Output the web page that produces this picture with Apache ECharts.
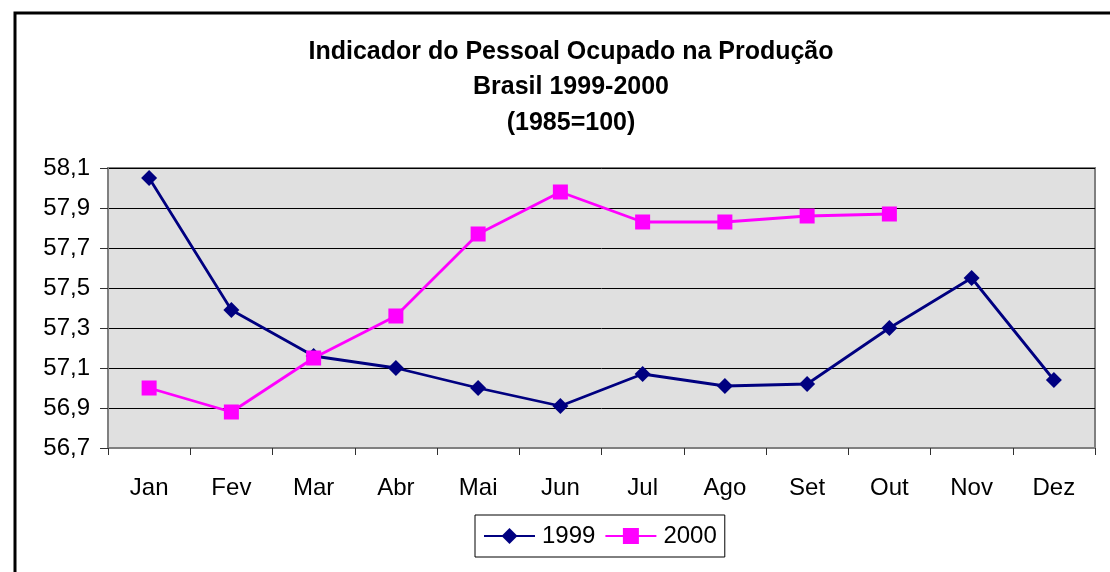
<!DOCTYPE html>
<html>
<head>
<meta charset="utf-8">
<script src="https://cdn.jsdelivr.net/npm/echarts@6/dist/echarts.min.js"></script>
<style>
html,body{margin:0;padding:0;background:#fff;}
#chart{width:1110px;height:572px;}
</style>
</head>
<body>
<div id="chart"></div>
<script>
var categories = ['Jan','Fev','Mar','Abr','Mai','Jun','Jul','Ago','Set','Out','Nov','Dez'];
var series1999 = [58.05, 57.39, 57.16, 57.10, 57.00, 56.91, 57.07, 57.01, 57.02, 57.30, 57.55, 57.04];
var series2000 = [57.00, 56.88, 57.15, 57.36, 57.77, 57.98, 57.83, 57.83, 57.86, 57.87, null, null];
var titleLines = ['Indicador do Pessoal Ocupado na Produção', 'Brasil 1999-2000', '(1985=100)'];

var chart = echarts.init(document.getElementById('chart'), null, {renderer: 'canvas'});
var font = 'Liberation Sans, Arial, sans-serif';
chart.setOption({
  animation: false,
  backgroundColor: '#ffffff',
  title: {
    text: titleLines.join('\n'),
    left: 566,
    top: 29,
    textAlign: 'center',
    textStyle: {fontFamily: font, fontSize: 25, fontWeight: 'bold', color: '#000', lineHeight: 35.5}
  },
  graphic: [{
    type: 'rect',
    shape: {x: 15, y: 13, width: 1200, height: 700},
    style: {fill: 'none', stroke: '#000', lineWidth: 3},
    silent: true
  }],
  legend: {
    data: ['1999', '2000'],
    left: 475,
    top: 515,
    orient: 'horizontal',
    borderColor: '#000',
    borderWidth: 1,
    padding: [9, 8, 9, 8],
    itemGap: 9,
    itemWidth: 51,
    itemHeight: 20,
    textStyle: {fontFamily: font, fontSize: 24, color: '#000', padding: [0, 0, 0, 2]}
  },
  grid: {
    left: 108, right: 15, top: 168, bottom: 124,
    show: true,
    backgroundColor: '#e0e0e0',
    borderColor: '#808080',
    borderWidth: 2
  },
  xAxis: {
    type: 'category',
    data: categories,
    boundaryGap: true,
    axisLine: {show: true, lineStyle: {color: '#808080', width: 2}},
    axisTick: {show: true, alignWithLabel: false, length: 7, lineStyle: {color: '#303030', width: 1}},
    axisLabel: {fontFamily: font, fontSize: 24, color: '#000', margin: 28},
    splitLine: {show: false}
  },
  yAxis: {
    type: 'value',
    min: 56.7,
    max: 58.1,
    interval: 0.2,
    axisLine: {show: true, lineStyle: {color: '#808080', width: 2}},
    axisTick: {show: true, length: 8, lineStyle: {color: '#303030'}},
    axisLabel: {
      fontFamily: font, fontSize: 24, color: '#000', margin: 18,
      formatter: function (v) { return v.toFixed(1).replace('.', ','); }
    },
    splitLine: {show: true, lineStyle: {color: '#000', width: 1}}
  },
  series: [{
    name: '1999',
    type: 'line',
    data: series1999,
    symbol: 'diamond',
    symbolSize: 16,
    itemStyle: {color: '#000080'},
    lineStyle: {color: '#000080', width: 2.8}
  }, {
    name: '2000',
    type: 'line',
    data: series2000,
    symbol: 'rect',
    symbolSize: 15,
    itemStyle: {color: '#ff00ff'},
    lineStyle: {color: '#ff00ff', width: 2.8}
  }]
});
</script>
</body>
</html>
